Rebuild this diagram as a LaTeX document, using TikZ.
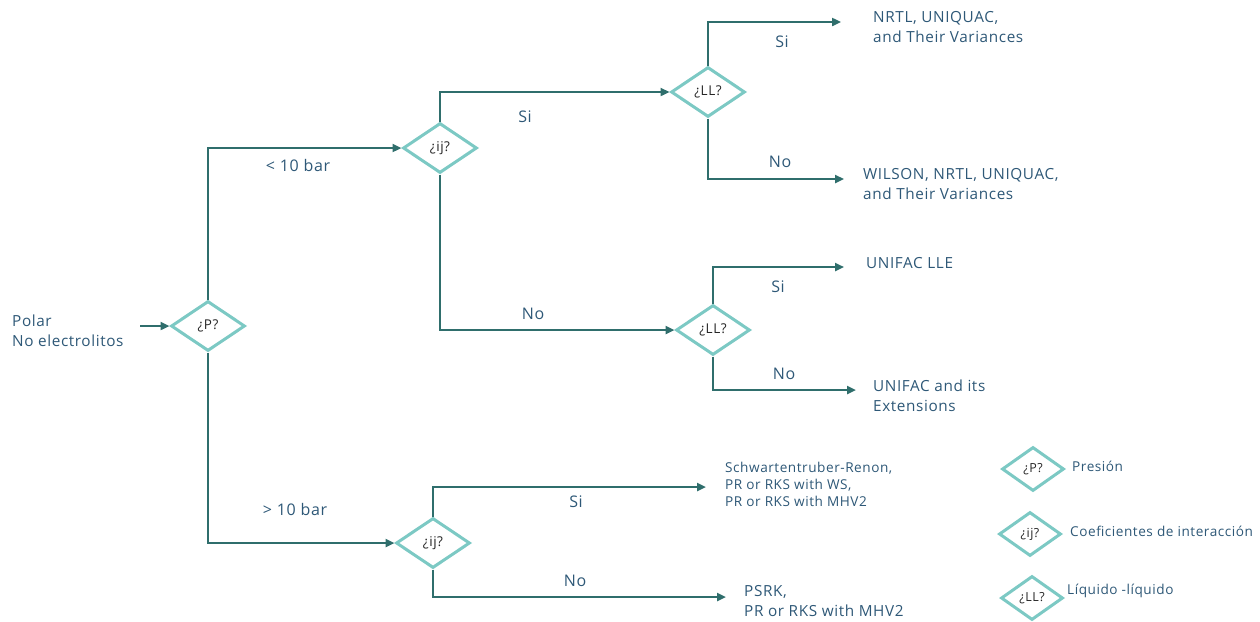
\documentclass[tikz,border=0pt]{standalone}
\usepackage{fontspec}
\setmainfont{Open Sans}[LetterSpace=4]
\usetikzlibrary{shapes.geometric,arrows.meta}
\definecolor{linec}{HTML}{2F6E6C}
\definecolor{diac}{HTML}{7CC9C4}
\definecolor{txtc}{HTML}{2E5877}
\begin{document}
\begin{tikzpicture}[x=1pt,y=-1pt,
  dia/.style={diamond,draw=diac,line width=3pt,fill=white,inner sep=0pt,minimum width=74pt,minimum height=50pt,font=\fontsize{13.5}{14}\selectfont,text=black!85},
  ldia/.style={diamond,draw=diac,line width=3pt,fill=white,inner sep=0pt,minimum width=62pt,minimum height=44pt,font=\fontsize{12.5}{14}\selectfont,text=black!85},
  conn/.style={draw=linec,line width=2.6pt,-{Triangle[length=9pt,width=8pt]}},
  lbl/.style={text=txtc,font=\fontsize{16}{19}\selectfont,inner sep=0pt},
  outtxt/.style={text=txtc,font=\fontsize{15.3}{20}\selectfont,inner sep=0pt,anchor=west,align=left},
  souttxt/.style={text=txtc,font=\fontsize{13.6}{17}\selectfont,inner sep=0pt,anchor=west,align=left}]
\useasboundingbox (0,0) rectangle (1260,621);
% diamonds
\node[dia] (P) at (208,326) {¿P?};
\node[dia] (ij1) at (440,148) {¿ij?};
\node[dia] (LL1) at (708,92) {¿LL?};
\node[dia] (LL2) at (713,330) {¿LL?};
\node[dia] (ij2) at (433,543) {¿ij?};
% input
\node[outtxt] (inp) at (12,331) {Polar\\No electrolitos};
\coordinate (instart) at (140,326);
\draw[conn] (instart) -- (P.west);
% main branches
\draw[conn] (P.north) |- (ij1.west);
\draw[conn] (P.south) |- (ij2.west);
\draw[conn] (ij1.north) |- (LL1.west);
\draw[conn] (ij1.south) |- (LL2.west);
% end coordinates
\coordinate (e1) at (841,22);
\coordinate (e2) at (844,179);
\coordinate (e3) at (844,267);
\coordinate (e4) at (856,390);
\coordinate (e5) at (706,487);
\coordinate (e6) at (726,597);
\draw[conn] (LL1.north) |- (e1);
\draw[conn] (LL1.south) |- (e2);
\draw[conn] (LL2.north) |- (e3);
\draw[conn] (LL2.south) |- (e4);
\draw[conn] (ij2.north) |- (e5);
\draw[conn] (ij2.south) |- (e6);
% branch labels
\node[lbl] (l1) at (298,165) {< 10 bar};
\node[lbl] (l2) at (295,509) {> 10 bar};
\node[lbl] (l3) at (525,117) {Si};
\node[lbl] (l4) at (533,314) {No};
\node[lbl] (l5) at (782,42) {Si};
\node[lbl] (l6) at (780,162) {No};
\node[lbl] (l7) at (778,287) {Si};
\node[lbl] (l8) at (784,374) {No};
\node[lbl] (l9) at (576,502) {Si};
\node[lbl] (l10) at (575,581) {No};
% outputs
\node[outtxt] (o1) at (873,27) {NRTL, UNIQUAC,\\and Their Variances};
\node[outtxt] (o2) at (863,184) {WILSON, NRTL, UNIQUAC,\\and Their Variances};
\node[outtxt] (o3) at (866,263) {UNIFAC LLE};
\node[outtxt] (o4) at (873,396) {UNIFAC and its\\Extensions};
\node[souttxt] (o5) at (725,484) {Schwartentruber-Renon,\\PR or RKS with WS,\\PR or RKS with MHV2};
\node[outtxt] (o6) at (744,601) {PSRK,\\PR or RKS with MHV2};
% legend
\node[ldia] (g1) at (1033,469) {¿P?};
\node[ldia] (g2) at (1030,534) {¿ij?};
\node[ldia] (g3) at (1032,598) {¿LL?};
\node[souttxt] (t1) at (1072,466) {Presión};
\node[souttxt] (t2) at (1070,531) {Coeficientes de interacción};
\node[souttxt] (t3) at (1067,591) {Líquido -líquido};
\end{tikzpicture}
\end{document}
